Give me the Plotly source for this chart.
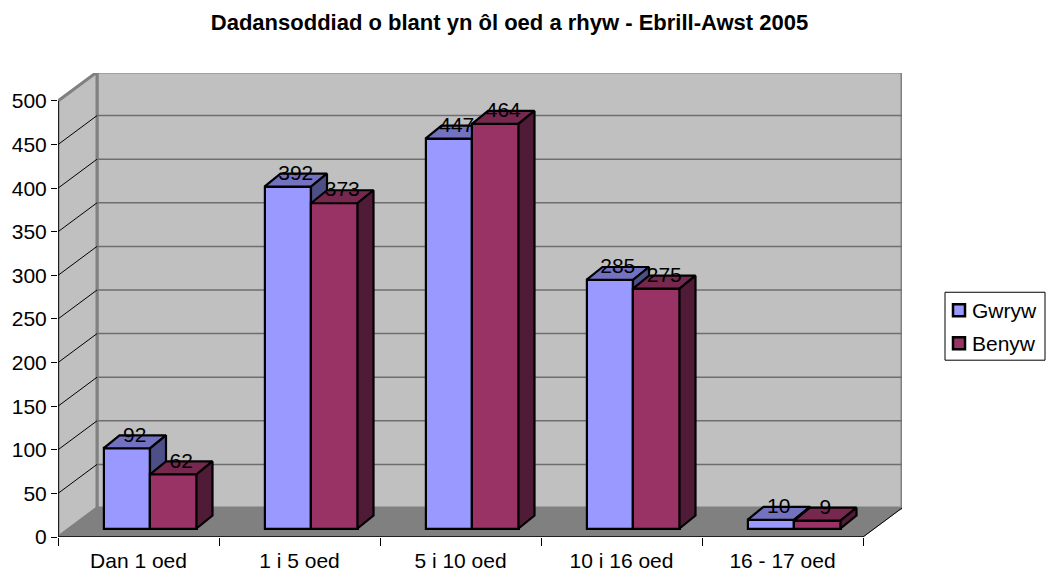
import plotly.graph_objects as go

categories = ["Dan 1 oed", "1 i 5 oed", "5 i 10 oed", "10 i 16 oed", "16 - 17 oed"]
gwryw = [92, 392, 447, 285, 10]
benyw = [62, 373, 464, 275, 9]
y_ticks = [0, 50, 100, 150, 200, 250, 300, 350, 400, 450, 500]
series_names = ["Gwryw", "Benyw"]
title = "Dadansoddiad o blant yn ôl oed a rhyw - Ebrill-Awst 2005"

# scale helpers: pixels per axis unit, used only for the pseudo-3D projection
PX_X = 161.0
PX_Y = 0.873
L, R, T, B = 58, 902, 72.5, 537
x_max = (R - L) / PX_X
y_max = (B - T) / PX_Y

WALL_DX, WALL_DY = 39 / PX_X, 29 / PX_Y
BAR_DX, BAR_DY = 16 / PX_X, 13 / PX_Y
SHIFT_X, SHIFT_Y = 11.5 / PX_X, 8.5 / PX_Y
BAR_W = 46.5 / PX_X
GAP = 34 / PX_X
LABEL_DY = 12 / PX_Y
FRONT_COLORS = ["#9999FF", "#993366"]


def poly_traces(vals, offset, top_color, side_color, axes):
    tx, ty, sx, sy = [], [], [], []
    for i, v in enumerate(vals):
        x0 = i + GAP + SHIFT_X + offset
        x1 = x0 + BAR_W
        y0 = SHIFT_Y
        y1 = v + SHIFT_Y
        tx += [x0, x1, x1 + BAR_DX, x0 + BAR_DX, x0, None]
        ty += [y1, y1, y1 + BAR_DY, y1 + BAR_DY, y1, None]
        sx += [x1, x1 + BAR_DX, x1 + BAR_DX, x1, x1, None]
        sy += [y0, y0 + BAR_DY, y1 + BAR_DY, y1, y0, None]
    out = []
    for xs, ys, c in ((tx, ty, top_color), (sx, sy, side_color)):
        out.append(go.Scatter(x=xs, y=ys, mode="lines", fill="toself", fillcolor=c,
                              line=dict(color="black", width=2.2), showlegend=False,
                              hoverinfo="skip", xaxis=axes[0], yaxis=axes[1]))
    return out


def bar_trace(vals, offset, color, name, axes):
    return go.Bar(x=[i + GAP + SHIFT_X + offset + BAR_W / 2 for i in range(len(vals))],
                  y=vals, base=SHIFT_Y, width=BAR_W, name=name, showlegend=False,
                  marker=dict(color=color, line=dict(color="black", width=2.2)),
                  xaxis=axes[0], yaxis=axes[1])


def label_trace(vals, offset):
    return go.Scatter(x=[i + GAP + SHIFT_X + offset + BAR_W / 2 + BAR_DX / 2 for i in range(len(vals))],
                      y=[v + SHIFT_Y + LABEL_DY for v in vals],
                      mode="text", text=[str(v) for v in vals], textposition="middle center",
                      textfont=dict(size=21, color="black"), showlegend=False, hoverinfo="skip",
                      xaxis="x2", yaxis="y2", cliponaxis=False)


fig = go.Figure()
fig.add_trace(bar_trace(gwryw, 0, FRONT_COLORS[0], series_names[0], ("x", "y")))
for t in poly_traces(gwryw, 0, "#7272C0", "#4F4F88", ("x", "y")):
    fig.add_trace(t)
fig.add_trace(bar_trace(benyw, BAR_W, FRONT_COLORS[1], series_names[1], ("x2", "y2")))
for t in poly_traces(benyw, BAR_W, "#76284F", "#4F1B36", ("x2", "y2")):
    fig.add_trace(t)
fig.add_trace(label_trace(gwryw, 0))
fig.add_trace(label_trace(benyw, BAR_W))

shapes = []
ends = len(categories)
GRID = "#6E6E6E"
WALL = "#C0C0C0"
EDGE = "#808080"
top_v = max(y_ticks)


def path(pts):
    return "M" + " L".join(f"{x},{y}" for x, y in pts) + " Z"


shapes.append(dict(type="path", path=path([(WALL_DX, WALL_DY), (WALL_DX, top_v + WALL_DY), (x_max, top_v + WALL_DY), (x_max, WALL_DY)]),
                   fillcolor=WALL, line=dict(color=EDGE, width=3)))
shapes.append(dict(type="path", path=path([(0, 0), (0, top_v), (WALL_DX, top_v + WALL_DY), (WALL_DX, WALL_DY)]),
                   fillcolor=WALL, line=dict(color=EDGE, width=3)))
shapes.append(dict(type="path", path=path([(0, 0), (WALL_DX, WALL_DY), (x_max, WALL_DY), (ends, 0)]),
                   fillcolor=EDGE, line=dict(color=EDGE, width=1)))
for v in y_ticks[1:-1]:
    shapes.append(dict(type="line", x0=WALL_DX, x1=x_max, y0=v + WALL_DY, y1=v + WALL_DY, line=dict(color=GRID, width=1.5)))
for v in y_ticks[1:-1]:
    shapes.append(dict(type="line", x0=0, x1=WALL_DX, y0=v, y1=v + WALL_DY, line=dict(color="black", width=1)))
shapes.append(dict(type="line", x0=ends, x1=x_max, y0=0, y1=WALL_DY, line=dict(color="black", width=1)))
shapes.append(dict(type="line", x0=0, x1=ends, y0=0, y1=0, line=dict(color="black", width=1.5)))
shapes.append(dict(type="line", x0=0, x1=0, y0=0, y1=top_v, line=dict(color="black", width=1.5)))
for s in shapes:
    s.update(xref="x", yref="y", layer="below")


# hand-placed legend, to match the reference's tight swatch/text spacing
def px(x):
    return (x - L) / (R - L)


def py(y):
    return (B - y) / (B - T)


annotations = []
shapes.append(dict(type="rect", xref="paper", yref="paper", x0=px(945), x1=px(1045), y0=py(360), y1=py(292),
                   fillcolor="white", line=dict(color="black", width=1)))
for name, color, cy in zip(series_names, FRONT_COLORS, (310, 343)):
    shapes.append(dict(type="rect", xref="paper", yref="paper", x0=px(953), x1=px(965), y0=py(cy + 6), y1=py(cy - 6),
                       fillcolor=color, line=dict(color="black", width=2.5)))
    annotations.append(dict(xref="paper", yref="paper", x=px(971), y=py(cy), text=name, showarrow=False,
                            xanchor="left", yanchor="middle", borderpad=0,
                            font=dict(size=21, color="black")))

font = "Liberation Sans, Arial, sans-serif"
fig.update_layout(
    width=1050, height=574,
    margin=dict(l=L, r=1050 - R, t=T, b=574 - B, autoexpand=False),
    paper_bgcolor="white", plot_bgcolor="white",
    font=dict(family=font, size=21, color="black"),
    title=dict(text=f"<b>{title}</b>", x=509.5 / 1050, xanchor="center", y=1 - 22.5 / 574, yanchor="middle",
               font=dict(size=22, family=font, color="black")),
    barmode="overlay", shapes=shapes, annotations=annotations, bargap=0, showlegend=False,
    xaxis=dict(range=[0, x_max], tickmode="array", tickvals=[i + 0.5 for i in range(ends)], ticktext=categories,
               ticks="", showgrid=False, zeroline=False, showline=False, ticklabelstandoff=9,
               minor=dict(ticks="outside", tick0=0, dtick=1, ticklen=8, tickcolor="black", tickwidth=1, showgrid=False)),
    yaxis=dict(range=[0, y_max], tickmode="array", tickvals=y_ticks, ticks="outside", ticklen=6,
               tickcolor="black", showgrid=False, zeroline=False, showline=False),
    xaxis2=dict(range=[0, x_max], overlaying="x", visible=False),
    yaxis2=dict(range=[0, y_max], overlaying="y", visible=False),
    hovermode=False,
)
fig.write_html("out.html", config={"displayModeBar": False},
               post_script="document.body.style.margin='0';")
